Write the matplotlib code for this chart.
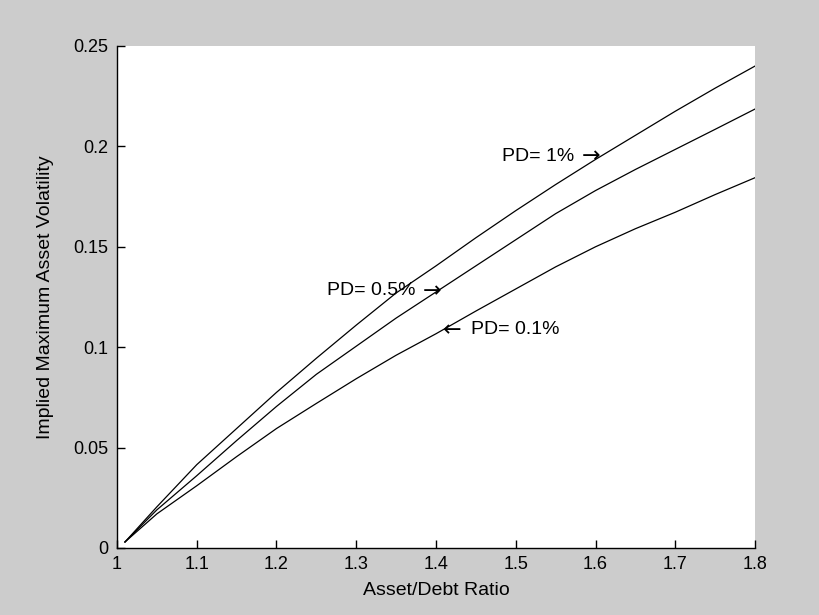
import matplotlib.pyplot as plt

# === Datos ===
ratio = [1.01, 1.05, 1.1, 1.15, 1.2, 1.25, 1.3, 1.35, 1.4,
         1.45, 1.5, 1.55, 1.6, 1.65, 1.7, 1.75, 1.8]
vol_pd1 = [0.003, 0.0205, 0.0415, 0.0595, 0.0775, 0.0945, 0.111, 0.127, 0.1405,
           0.1545, 0.168, 0.181, 0.1935, 0.2055, 0.2175, 0.229, 0.240]
vol_pd05 = [0.003, 0.019, 0.036, 0.0535, 0.0705, 0.0865, 0.1005, 0.1145, 0.1275,
            0.1405, 0.1535, 0.1665, 0.178, 0.1885, 0.1985, 0.2085, 0.2186]
vol_pd01 = [0.003, 0.017, 0.031, 0.0455, 0.0595, 0.072, 0.0843, 0.096, 0.1067,
            0.118, 0.129, 0.140, 0.150, 0.159, 0.1672, 0.176, 0.1844]

xticks = [1, 1.1, 1.2, 1.3, 1.4, 1.5, 1.6, 1.7, 1.8]
xticklabels = ['1', '1.1', '1.2', '1.3', '1.4', '1.5', '1.6', '1.7', '1.8']
yticks = [0, 0.05, 0.1, 0.15, 0.2, 0.25]
yticklabels = ['0', '0.05', '0.1', '0.15', '0.2', '0.25']

# etiquetas: (texto, x, y, lado de la flecha)
etiquetas = [
    ('PD= 1%', 1.606, 0.195, 'right'),
    ('PD= 0.5%', 1.407, 0.128, 'right'),
    ('PD= 0.1%', 1.409, 0.1086, 'left'),
]

FONT = ['Liberation Sans', 'DejaVu Sans']
plt.rcParams['font.family'] = FONT

fig = plt.figure(figsize=(8.2, 6.15), dpi=100, facecolor='#cccccc')
ax = fig.add_axes([117 / 820, 67 / 615, 638 / 820, 502 / 615])
ax.set_facecolor('white')

for serie in (vol_pd1, vol_pd05, vol_pd01):
    ax.plot(ratio, serie, color='black', linewidth=0.9)

ax.set_xlim(1, 1.8)
ax.set_ylim(0, 0.25)
ax.set_xticks(xticks)
ax.set_xticklabels(xticklabels)
ax.set_yticks(yticks)
ax.set_yticklabels(yticklabels)
ax.tick_params(direction='in', length=6, width=1, colors='black', pad=6, labelsize=13)

for side in ('top', 'right'):
    ax.spines[side].set_visible(False)
for side in ('left', 'bottom'):
    ax.spines[side].set_linewidth(1)

ax.set_xlabel('Asset/Debt Ratio', fontsize=14, labelpad=6)
ax.set_ylabel('Implied Maximum Asset Volatility', fontsize=14, labelpad=14)

# === Etiquetas con flechas ===
for texto, x, y, lado in etiquetas:
    if lado == 'right':
        ax.text(x, y, '\u2192', ha='right', va='center', fontsize=16, family='DejaVu Sans')
        ax.annotate(texto, xy=(x, y), xytext=(-19, 0), textcoords='offset points',
                    ha='right', va='center', fontsize=14)
    else:
        ax.text(x, y, '\u2190', ha='left', va='center', fontsize=16, family='DejaVu Sans')
        ax.annotate(texto, xy=(x, y), xytext=(20, 0), textcoords='offset points',
                    ha='left', va='center', fontsize=14)

fig.savefig('out.png', dpi=100, facecolor=fig.get_facecolor())
